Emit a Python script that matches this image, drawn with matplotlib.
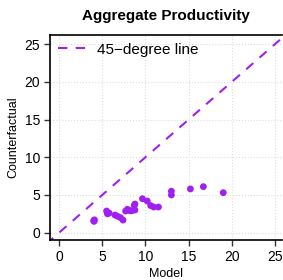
import matplotlib.pyplot as plt
import numpy as np

plt.rcParams['font.family'] = ['Liberation Sans', 'DejaVu Sans']

# model vs counterfactual productivity
model = np.array([
    4.0, 4.1, 4.05, 5.5, 5.6, 5.8, 6.47, 6.73, 7.1, 7.4, 7.7, 7.9, 8.2, 8.4,
    8.7, 8.78, 8.78, 9.65, 10.2, 10.6, 10.95, 11.5, 13.0, 13.0, 15.2, 16.7,
    19.0
])
counterfactual = np.array([
    1.6, 1.7, 1.5, 2.87, 2.5, 2.6, 2.34, 2.2, 2.0, 1.67, 2.87, 3.1, 2.9, 2.9,
    3.6, 3.8, 3.0, 4.5, 4.2, 3.6, 3.4, 3.4, 5.5, 5.0, 5.8, 6.1, 5.3
])
diag = np.array([-1.5, 27])
xticks = [0, 5, 10, 15, 20, 25]
yticks = [0, 5, 10, 15, 20, 25]

purple = '#A020F0'

fig = plt.figure(figsize=(2.83, 2.80), dpi=100)
ax = fig.add_axes([50 / 283, 40 / 280, 232 / 283, 205 / 280])

ax.plot(diag, diag, linestyle=(0, (4.5, 4)), color=purple, lw=1.5,
        label='45\u2212degree line')
ax.scatter(model, counterfactual, s=24, color=purple, edgecolors='none',
           zorder=3)

ax.set_xlim(-1.05, 25.8)
ax.set_ylim(-0.97, 26.2)
ax.set_xticks(xticks)
ax.set_yticks(yticks)
ax.grid(True, color='#dddddd', linestyle=':', lw=0.8)
ax.set_axisbelow(True)

ax.spines['right'].set_visible(False)
for s in ['left', 'bottom', 'top']:
    ax.spines[s].set_linewidth(1.2)
ax.tick_params(labelsize=10, length=4, width=1, color='#333333', pad=3)

ax.set_xlabel('Model', fontsize=9, labelpad=3)
ax.set_ylabel('Counterfactual', fontsize=9)
ax.set_title('Aggregate Productivity', fontsize=11, fontweight='bold', pad=11)
ax.legend(loc='upper left', frameon=False, fontsize=11, handlelength=2.0,
          borderaxespad=0.1, handletextpad=0.6)

plt.savefig('out.png', dpi=100)
